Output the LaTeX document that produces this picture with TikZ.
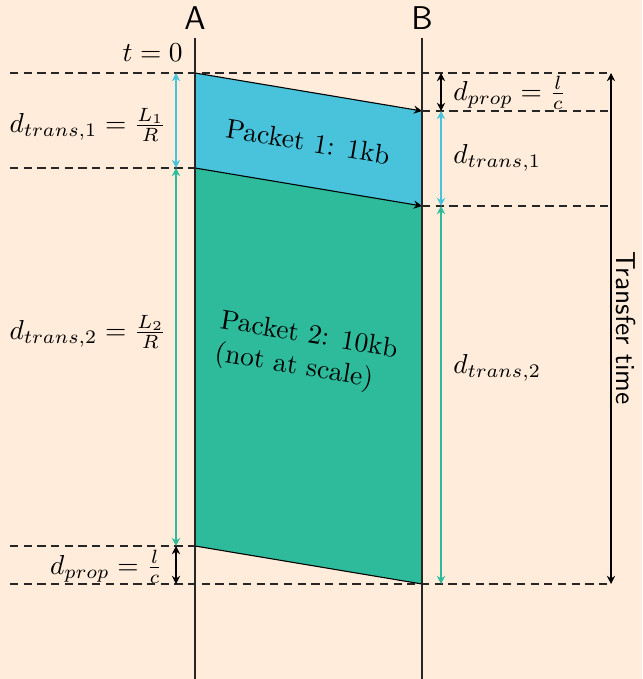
\documentclass[tikz,border=0pt]{standalone}
\usetikzlibrary{arrows.meta}
\definecolor{bgc}{RGB}{255,236,218}
\definecolor{pkone}{RGB}{72,195,219}
\definecolor{pktwo}{RGB}{46,187,156}
\begin{document}
\begin{tikzpicture}[x=0.365pt,y=-0.365pt,
  >={Stealth[length=3pt,width=3pt,inset=1pt]},
  guide/.style={dash pattern=on 3pt off 2pt, black!85, line width=0.4pt},
  lane/.style={black!85, line width=0.4pt},
  edge/.style={black, line width=0.4pt},
  dim/.style={<->, line width=0.4pt},
  lbl/.style={inner sep=1pt},
  pk/.style={inner sep=0pt, rotate=-9.5, align=left}]
\fill[bgc] (0,0) rectangle (642,679);
\useasboundingbox (0,0) rectangle (642,679);
% key points
\coordinate (A0) at (195,73);
\coordinate (A1) at (195,168);
\coordinate (A2) at (195,546);
\coordinate (B0) at (422,111);
\coordinate (B1) at (422,206);
\coordinate (B2) at (422,584);
% packets
\fill[pkone] (A0)--(B0)--(B1)--(A1)--cycle;
\fill[pktwo] (A1)--(B1)--(B2)--(A2)--cycle;
\draw[edge,->] (A0)--(B0);
\draw[edge,->] (A1)--(B1);
\draw[edge] (A2)--(B2);
% lanes
\node[font=\sffamily\large] (A) at (195,18) {A};
\node[font=\sffamily\large] (B) at (422,18) {B};
\coordinate (At) at (195,38); \coordinate (Ab) at (195,679);
\coordinate (Bt) at (422,38); \coordinate (Bb) at (422,679);
\draw[lane] (At)--(Ab);
\draw[lane] (Bt)--(Bb);
% guides
\coordinate (L0) at (10,73);  \coordinate (R0) at (611,73);
\coordinate (R1) at (611,111);
\coordinate (L2) at (10,168);
\coordinate (R3) at (611,206);
\coordinate (L4) at (10,546);
\coordinate (L5) at (10,584); \coordinate (R5) at (611,584);
\draw[guide] (L0)--(R0);
\draw[guide] (B0)--(R1);
\draw[guide] (L2)--(A1);
\draw[guide] (B1)--(R3);
\draw[guide] (L4)--(A2);
\draw[guide] (L5)--(R5);
% left dimensions
\coordinate (la0) at (176,73); \coordinate (la1) at (176,168);
\coordinate (la2) at (176,546); \coordinate (la3) at (176,584);
\draw[dim,pkone] (la0)--(la1);
\draw[dim,pktwo] (la1)--(la2);
\draw[dim,black] (la2)--(la3);
% right dimensions
\coordinate (rb0) at (441,73); \coordinate (rb1) at (441,111);
\coordinate (rb2) at (441,206); \coordinate (rb3) at (441,584);
\draw[dim,black] (rb0)--(rb1);
\draw[dim,pkone] (rb1)--(rb2);
\draw[dim,pktwo] (rb2)--(rb3);
% transfer time
\draw[dim,black] (R0)--(R5);
\node[rotate=-90, font=\sffamily] (tt) at (626,328) {Transfer time};
% labels
\node[lbl, anchor=east] (t0) at (186,53) {$t=0$};
\node[lbl] (dl1) at (88,125) {$d_{trans,1}=\frac{L_1}{R}$};
\node[lbl] (dl2) at (88,332) {$d_{trans,2}=\frac{L_2}{R}$};
\node[lbl, anchor=east] (dl3) at (166,567) {$d_{prop}=\frac{l}{c}$};
\node[lbl, anchor=west] (dr1) at (450,93) {$d_{prop}=\frac{l}{c}$};
\node[lbl, anchor=west] (dr2) at (450,158) {$d_{trans,1}$};
\node[lbl, anchor=west] (dr3) at (450,368) {$d_{trans,2}$};
\node[pk] (p1) at (308,142) {Packet 1: 1kb};
\node[pk] (p2) at (306,353) {Packet 2: 10kb\\(not at scale)};
\end{tikzpicture}
\end{document}
